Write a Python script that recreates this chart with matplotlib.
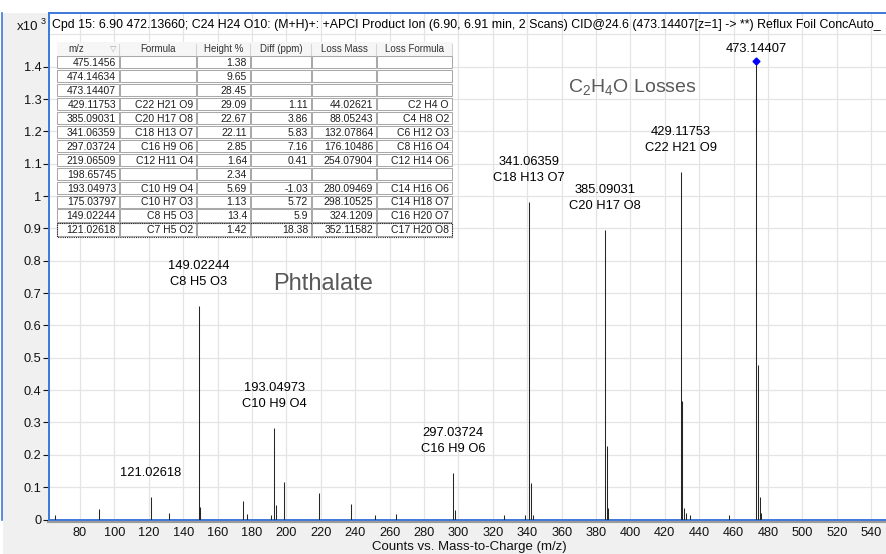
import matplotlib
matplotlib.use("Agg")
import matplotlib.pyplot as plt
from matplotlib import font_manager
from matplotlib.lines import Line2D
from matplotlib.patches import Rectangle

W, H = 886, 554
DPI = 100

TITLE = ("Cpd 15: 6.90 472.13660; C24 H24 O10: (M+H)+: +APCI Product Ion (6.90, 6.91 min, 2 Scans) "
         "CID@24.6 (473.14407[z=1] -> **) Reflux Foil ConcAuto_")
X_LABEL = "Counts vs. Mass-to-Charge (m/z)"

# centroided product-ion peaks, heights in x10^3 counts
PEAK_MZ = [65.5, 91.2, 121.02618, 131.5, 149.02244, 150.03, 175.03797, 177.0, 191.2,
           193.04973, 194.05, 198.65745, 219.06509, 237.6, 251.3, 263.7, 297.03724,
           298.04, 326.3, 338.5, 341.06359, 342.07, 343.07, 385.09031, 386.09, 387.1,
           429.11753, 430.12, 431.12, 432.5, 434.8, 457.5, 473.14407, 474.14634,
           475.1456, 476.15]
PEAK_HEIGHT = [0.014, 0.032, 0.071, 0.019, 0.661, 0.039, 0.058, 0.018, 0.015,
               0.284, 0.045, 0.116, 0.081, 0.048, 0.013, 0.017, 0.143,
               0.028, 0.015, 0.015, 0.983, 0.114, 0.015, 0.895, 0.227, 0.035,
               1.074, 0.367, 0.036, 0.020, 0.015, 0.014, 1.419, 0.478,
               0.071, 0.020]
PRECURSOR_MZ = 473.14407

# peak labels: upper line / lower line
LABEL_MZ = [473.14407, 429.11753, 385.09031, 341.06359, 297.03724, 193.04973, 149.02244, 121.02618]
LABEL_UPPER = ["", "429.11753", "385.09031", "341.06359", "297.03724", "193.04973", "149.02244", ""]
LABEL_LOWER = ["473.14407", "C22 H21 O9", "C20 H17 O8", "C18 H13 O7", "C16 H9 O6", "C10 H9 O4",
               "C8 H5 O3", "121.02618"]

# peak table
TABLE_HEADER = ["m/z", "Formula", "Height %", "Diff (ppm)", "Loss Mass", "Loss Formula"]
TABLE_MZ = ["475.1456", "474.14634", "473.14407", "429.11753", "385.09031", "341.06359", "297.03724",
            "219.06509", "198.65745", "193.04973", "175.03797", "149.02244", "121.02618"]
TABLE_FORMULA = ["", "", "", "C22 H21 O9", "C20 H17 O8", "C18 H13 O7", "C16 H9 O6",
                 "C12 H11 O4", "", "C10 H9 O4", "C10 H7 O3", "C8 H5 O3", "C7 H5 O2"]
TABLE_HEIGHT = ["1.38", "9.65", "28.45", "29.09", "22.67", "22.11", "2.85",
                "1.64", "2.34", "5.69", "1.13", "13.4", "1.42"]
TABLE_DIFF = ["", "", "", "1.11", "3.86", "5.83", "7.16", "0.41", "", "-1.03", "5.72", "5.9", "18.38"]
TABLE_LOSS_MASS = ["", "", "", "44.02621", "88.05243", "132.07864", "176.10486",
                   "254.07904", "", "280.09469", "298.10525", "324.1209", "352.11582"]
TABLE_LOSS_FORMULA = ["", "", "", "C2 H4 O", "C4 H8 O2", "C6 H12 O3", "C8 H16 O4",
                      "C12 H14 O6", "", "C14 H16 O6", "C14 H18 O7", "C16 H20 O7", "C17 H20 O8"]

X_TICKS = list(range(80, 541, 20))
Y_TICKS = [round(v * 0.1, 1) for v in range(0, 15)]

BLUE = "#3b78dc"
PANEL = "#f0f0f0"
GRID = "#e4e4e4"


def font_family():
    for name in ("Liberation Sans Narrow", "Liberation Sans"):
        try:
            font_manager.findfont(name, fallback_to_default=False)
            return name
        except ValueError:
            pass
    return "DejaVu Sans"


FONT = font_family()
plt.rcParams["font.family"] = [FONT, "DejaVu Sans"]


def fx(x):
    return x / W


def fy(y):
    return 1 - y / H


def fmt_tick(v):
    return f"{v:.1f}".rstrip("0").rstrip(".")


def draw_table(ov):
    cols = [57, 120, 197, 251, 312, 377, 453]
    head_top, head_bot = 41.5, 55.5
    pitch = 13.95
    rows = list(zip(TABLE_MZ, TABLE_FORMULA, TABLE_HEIGHT, TABLE_DIFF, TABLE_LOSS_MASS, TABLE_LOSS_FORMULA))
    bottom = head_bot + pitch * len(rows)
    ov.add_patch(Rectangle((cols[0], head_top), cols[-1] - cols[0], bottom - head_top,
                           facecolor="white", edgecolor="none", zorder=1))
    ov.add_patch(Rectangle((cols[0], head_top), cols[-1] - cols[0], head_bot - head_top,
                           facecolor="#f6f6f6", edgecolor="none", zorder=1))
    # header
    for i, name in enumerate(TABLE_HEADER):
        x0, x1 = cols[i], cols[i + 1]
        yc = (head_top + head_bot) / 2
        if i == 0:
            ov.text(x0 + 11, yc, name, ha="left", va="center", fontsize=7, color="#333333", zorder=3)
            ov.text(x1 - 7, yc, "\u25bd", ha="center", va="center", fontsize=6, color="#a8a8a8",
                    family="DejaVu Sans", zorder=3)
        else:
            ov.text((x0 + x1) / 2, yc, name, ha="center", va="center", fontsize=7, color="#333333", zorder=3)
        ov.add_line(Line2D([x1 - 0.5, x1 - 0.5], [head_top + 2, head_bot - 1], color="#d5d5d5", lw=0.8, zorder=2))
    # body cells
    for r, row in enumerate(rows):
        top = head_bot + r * pitch
        yc = top + pitch / 2 + 0.5
        for c, val in enumerate(row):
            x0, x1 = cols[c], cols[c + 1]
            ov.add_patch(Rectangle((x0 + 0.5, top + 0.5), x1 - x0 - 1.5, pitch - 1.5,
                                   facecolor="none", edgecolor="#a9a9a9", lw=0.75, zorder=2))
            if val:
                ov.text(x1 - 4, yc, val, ha="right", va="center", fontsize=7.5, color="#1e1e1e", zorder=3)
    # focus rectangle on the selected row
    top = head_bot + (len(rows) - 1) * pitch
    ov.add_patch(Rectangle((cols[0], top), cols[-1] - cols[0] - 1, pitch,
                           facecolor="none", edgecolor="#202020", lw=0.8, ls=(0, (1, 1)), zorder=4))


def main():
    fig = plt.figure(figsize=(W / DPI, H / DPI), dpi=DPI, facecolor="white")

    # grey frame behind the plotting area
    fig.add_artist(Rectangle((fx(3), 0), 1 - fx(3), fy(13), transform=fig.transFigure,
                             facecolor=PANEL, edgecolor="none", zorder=-1))

    left, top, bottom = 48.5, 13, 520
    ax = fig.add_axes([fx(left), fy(bottom), 1 - fx(left), (bottom - top) / H])
    ax.set_facecolor("white")

    ax.vlines(PEAK_MZ, 0, PEAK_HEIGHT, colors="#262626", linewidth=0.75, zorder=3)
    prec_h = PEAK_HEIGHT[PEAK_MZ.index(PRECURSOR_MZ)]
    ax.plot([PRECURSOR_MZ], [prec_h], marker="D", ms=3.5, color="#0000ff", zorder=4)

    px_per_mz = 1.7202
    px_per_unit = 323.4
    ax.set_xlim(80 - (80 - left) / px_per_mz, 540 + (W - 871.3) / px_per_mz)
    ax.set_ylim(-0.5 / px_per_unit, (519.5 - top) / px_per_unit)

    ax.set_xticks(X_TICKS)
    ax.set_xticklabels([str(v) for v in X_TICKS])
    ax.set_yticks(Y_TICKS)
    ax.set_yticklabels([fmt_tick(v) for v in Y_TICKS])
    ax.tick_params(axis="x", length=0, pad=5, labelsize=9.2, colors="#111111")
    ax.tick_params(axis="y", length=4, width=0.8, pad=1, labelsize=9.2, colors="#111111")
    ax.grid(True, color=GRID, lw=0.9)
    ax.axhline(1.5, color=GRID, lw=0.9, zorder=0.5)
    ax.set_axisbelow(True)
    for side in ("left", "top", "bottom"):
        ax.spines[side].set_color(BLUE)
        ax.spines[side].set_linewidth(1.4)
    ax.spines["right"].set_visible(False)

    # peak labels, kept clear of the title band at the top
    to_px = ax.transData
    for mz, upper, lower in zip(LABEL_MZ, LABEL_UPPER, LABEL_LOWER):
        h = PEAK_HEIGHT[PEAK_MZ.index(mz)]
        peak_top = H - to_px.transform((mz, h))[1]
        for text, off in ((upper, 40), (lower, 24)):
            if not text:
                continue
            y_px = max(peak_top - off, 48.5)
            ax.annotate(text, xy=(mz, h), xytext=(0, peak_top - y_px), textcoords="offset pixels",
                        ha="center", va="center", fontsize=9.3, color="#000000", zorder=5)

    ax.text(363.7, 1.334, r"C$_\mathregular{2}$H$_\mathregular{4}$O Losses", fontsize=14,
            color="#595959", family="Liberation Sans", ha="left", va="center", zorder=5)
    ax.text(192.2, 0.728, "Phthalate", fontsize=17, color="#595959", family="Liberation Sans",
            ha="left", va="center", zorder=5)

    # overlay in pixel coordinates for the frame, title and table
    ov = fig.add_axes([0, 0, 1, 1], zorder=5)
    ov.set_xlim(0, W)
    ov.set_ylim(H, 0)
    ov.axis("off")
    ov.patch.set_alpha(0)
    ov.add_line(Line2D([2.5, 2.5], [13, 520], color=BLUE, lw=1.2))
    ov.add_line(Line2D([left, W], [522, 522], color="#9a9a9a", lw=1.5))

    title = ov.text(52, 25, TITLE, ha="left", va="center", fontsize=11, color="#000000")
    fig.canvas.draw()
    width = title.get_window_extent(fig.canvas.get_renderer()).width
    title.set_fontsize(11 * 828 / width)

    ov.text(17, 27, "x10", ha="left", va="center", fontsize=9.5, color="#111111")
    ov.text(40.5, 22, "3", ha="left", va="center", fontsize=6.5, color="#111111")
    ov.text(469, 547, X_LABEL, ha="center", va="center", fontsize=9.5, color="#111111")

    draw_table(ov)

    fig.savefig("out.png", dpi=DPI, facecolor="white")
    plt.close(fig)


if __name__ == "__main__":
    main()
